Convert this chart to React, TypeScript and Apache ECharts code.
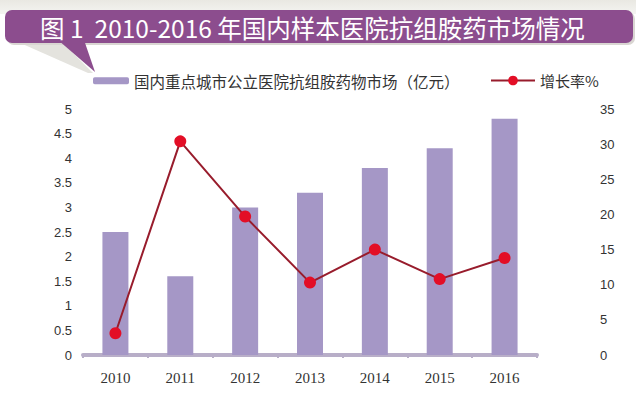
import React, { useEffect, useRef } from "react";
import * as echarts from "echarts";

const years = ["2010", "2011", "2012", "2013", "2014", "2015", "2016"];
const marketValues = [2.5, 1.6, 3.0, 3.3, 3.8, 4.2, 4.8];
const growthRates = [3.1, 30.4, 19.7, 10.3, 15.0, 10.8, 13.8];
const leftTicks = { min: 0, max: 5, interval: 0.5 };
const rightTicks = { min: 0, max: 35, interval: 5 };
const titleText = "图 1  2010-2016 年国内样本医院抗组胺药市场情况";
const barName = "国内重点城市公立医院抗组胺药物市场（亿元）";
const lineName = "增长率%";

export default function App() {
  const ref = useRef<HTMLDivElement>(null);
  useEffect(() => {
    if (!ref.current) return;
    const chart = echarts.init(ref.current, undefined, { renderer: "svg" });
    const serif = "'Liberation Serif', 'DejaVu Serif', serif";
    const sans = "'Liberation Sans', Arial, sans-serif";
    chart.setOption({
      animation: false,
      backgroundColor: "#ffffff",
      graphic: [
        {
          type: "rect",
          left: 0,
          top: 0,
          shape: { width: 636, height: 14 },
          style: {
            fill: new echarts.graphic.LinearGradient(0, 0, 0, 1, [
              { offset: 0, color: "#e9e8e2" },
              { offset: 1, color: "#f4f4f1" },
            ]),
          },
          z: 0,
        },
        {
          type: "polygon",
          shape: { points: [[18, 42], [62, 42], [93, 73], [88, 73]] },
          style: { fill: "#e4e3de" },
          z: 1,
        },
        {
          type: "rect",
          shape: { x: 7, y: 12, width: 628, height: 33, r: 7 },
          style: { fill: "#d9d6d2" },
          z: 1,
        },
        {
          type: "rect",
          shape: { x: 5, y: 10, width: 628, height: 33, r: 7 },
          style: { fill: "#8c4d8e" },
          z: 2,
        },
        {
          type: "polygon",
          shape: { points: [[58, 40], [84, 40], [95, 72]] },
          style: { fill: "#8c4d8e" },
          z: 2,
        },
        {
          type: "text",
          x: 40,
          y: 27,
          style: {
            text: titleText,
            fill: "#ffffff",
            font: "24.5px 'Noto Sans CJK SC', 'Noto Sans', sans-serif",
            textVerticalAlign: "middle",
          },
          z: 3,
        },
      ],
      legend: [
        {
          data: [barName],
          left: 88,
          top: 68,
          itemWidth: 36,
          itemHeight: 7,
          itemGap: 6,
          textStyle: {
            fontSize: 15.5,
            color: "#333",
            fontFamily: "'Noto Sans CJK SC', serif",
          },
        },
        {
          data: [lineName],
          left: 485,
          top: 68,
          itemWidth: 44,
          itemHeight: 12,
          itemGap: 2,
          textStyle: {
            fontSize: 15,
            color: "#333",
            fontFamily: "'Noto Sans CJK SC', serif",
          },
        },
      ],
      grid: { left: 83, right: 99, top: 109, bottom: 40 },
      xAxis: {
        type: "category",
        data: years,
        axisLine: { lineStyle: { color: "#b8aec8", width: 4 } },
        axisTick: { show: true, length: 3, lineStyle: { color: "#b8aec8", width: 2 } },
        axisLabel: { fontSize: 15, color: "#333", fontFamily: serif, margin: 15 },
      },
      yAxis: [
        {
          type: "value",
          ...leftTicks,
          splitLine: { show: false },
          axisLine: { show: false },
          axisTick: { show: false },
          axisLabel: { fontSize: 13, color: "#333", fontFamily: sans, margin: 11 },
        },
        {
          type: "value",
          ...rightTicks,
          position: "right",
          splitLine: { show: false },
          axisLine: { show: false },
          axisTick: { show: false },
          axisLabel: { fontSize: 13, color: "#333", fontFamily: sans, margin: 63 },
        },
      ],
      series: [
        {
          name: barName,
          type: "bar",
          data: marketValues,
          barWidth: 26,
          itemStyle: { color: "#a597c6" },
          z: 2,
        },
        {
          name: lineName,
          type: "line",
          yAxisIndex: 1,
          data: growthRates,
          symbol: "circle",
          symbolSize: 12,
          lineStyle: { color: "#981c2c", width: 2 },
          itemStyle: { color: "#e30e26", borderWidth: 0 },
          z: 3,
        },
      ],
    });
    return () => chart.dispose();
  }, []);
  return (
    <div
      ref={ref}
      style={{ position: "fixed", left: 0, top: 0, width: 636, height: 395 }}
    />
  );
}
